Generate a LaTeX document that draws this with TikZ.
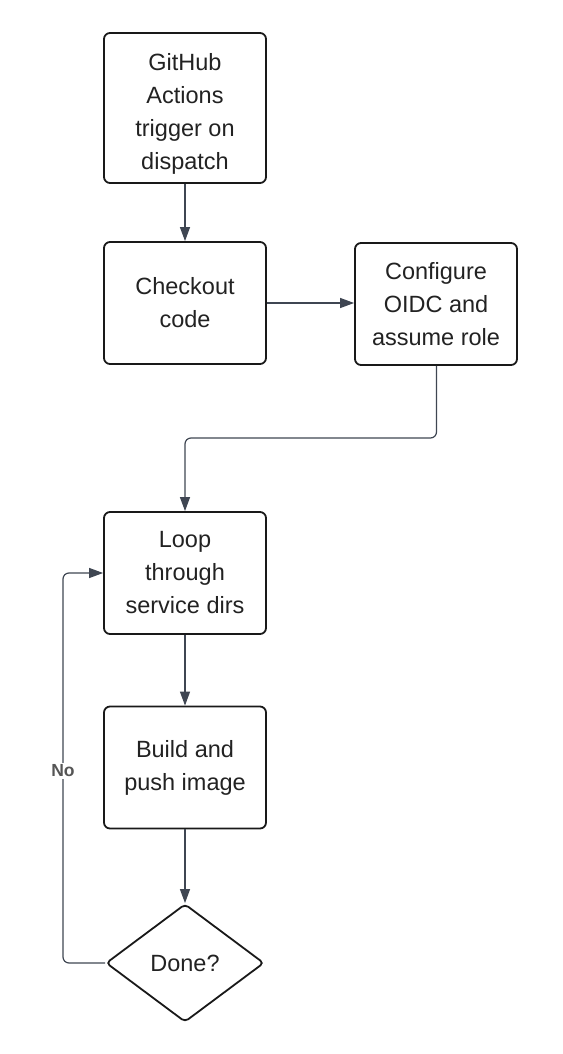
\documentclass[tikz,border=0pt]{standalone}
\usepackage{fontspec}
\setmainfont{Liberation Sans}
\usetikzlibrary{shapes.geometric,arrows.meta}
\definecolor{txt}{HTML}{222222}
\definecolor{edge}{HTML}{3F4652}
\definecolor{lbl}{HTML}{555555}
\tikzset{
  stepbox/.style={draw=black!90, line width=1.8pt, rounded corners=6pt, minimum width=162, minimum height=122, align=center, text=txt, font=\fontsize{23.5}{33}\selectfont, inner sep=0pt},
  decision/.style={diamond, draw=black!90, line width=1.8pt, rounded corners=4pt, minimum width=158, minimum height=118, inner sep=0pt, text=txt, font=\fontsize{23.5}{33}\selectfont},
  conn/.style={draw=edge, line width=1.2pt, -{Triangle[length=14pt,width=10pt]}, rounded corners=6pt},
  nolabel/.style={fill=white, text=lbl, font=\bfseries\fontsize{17.5}{20}\selectfont, inner sep=2pt}
}
\begin{document}
\begin{tikzpicture}[x=1pt,y=-1pt]
\useasboundingbox (0,0) rectangle (562,1054);
\node[stepbox, minimum height=150] (b1) at (185,108) {\raisebox{-2.5pt}[\dimexpr\height+2.5pt\relax][\dimexpr\depth-2.5pt\relax]{\begin{tabular}{@{}c@{}}GitHub\\Actions\\trigger on\\dispatch\end{tabular}}};
\node[stepbox] (b2) at (185,303) {Checkout\\code};
\node[stepbox] (b3) at (436,304) {Configure\\OIDC and\\assume role};
\node[stepbox] (b4) at (185,573) {Loop\\through\\service dirs};
\node[stepbox] (b5) at (185,767.5) {Build and\\push image};
\node[decision] (d) at (185,963) {Done?};
\coordinate (c1) at (436.5,438);
\coordinate (c2) at (185,438);
\coordinate (c3) at (63,963);
\coordinate (c4) at (63,573);
\draw[conn] (b1.south) -- (b2.north);
\draw[conn] (b2.east) -- (b3.west |- b2.east);
\draw[conn] (b3.south -| c1) -- (c1) -- (c2) -- (b4.north);
\draw[conn] (b4.south) -- (b5.north);
\draw[conn] (b5.south) -- (d.north);
\draw[conn] (d.west) -- (c3) -- (c4) -- (b4.west);
\node[nolabel] (no) at (63,771) {No};
\end{tikzpicture}
\end{document}
